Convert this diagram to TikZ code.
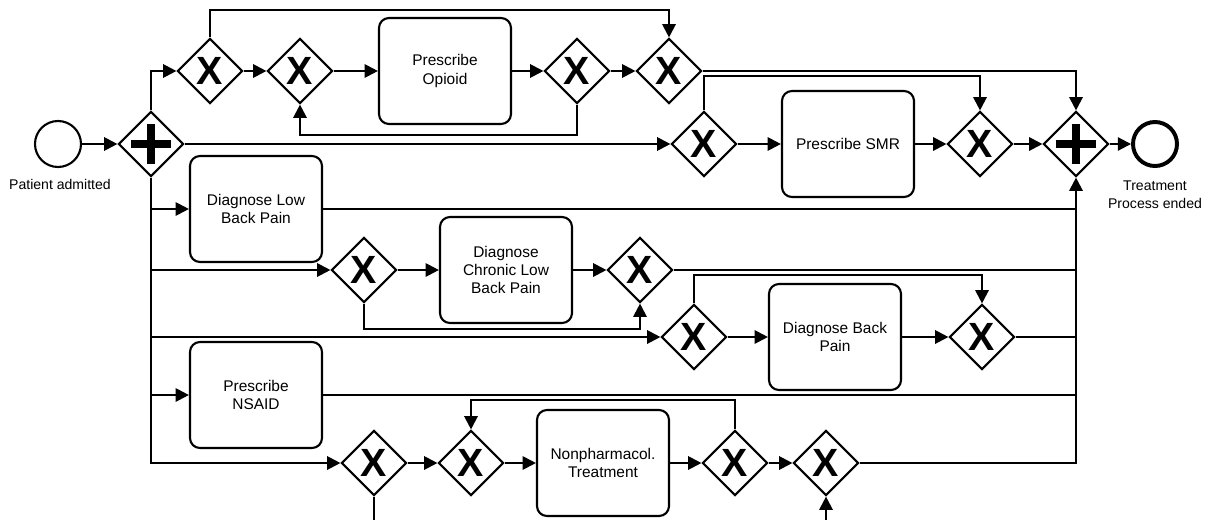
\documentclass[tikz,border=0pt]{standalone}
\usepackage{fontspec}
\setmainfont{Liberation Sans}
\usetikzlibrary{shapes.geometric,arrows.meta}
\tikzset{every node/.style={align=center},
    flow/.style={-{Triangle[length=0.33cm,width=0.33cm]}},
    gate/.style={diamond,draw,fill=white,inner sep=0pt,minimum size=1.625cm},
    xgate/.style={gate,font=\fontsize{28}{28}\selectfont\bfseries},
    pgate/.style={gate,path picture={
        \fill[black] ([shift={(-0.5cm,-0.09cm)}]path picture bounding box.center) rectangle ++(1cm,0.18cm);
        \fill[black] ([shift={(-0.09cm,-0.5cm)}]path picture bounding box.center) rectangle ++(0.18cm,1cm);}},
    task/.style={draw,rounded corners=0.25cm,minimum width=3.3cm,minimum height=2.65cm,
        font=\fontsize{11}{13}\selectfont},
    event/.style={circle,draw,minimum size=1.15cm},
    lbl/.style={font=\fontsize{10}{12.5}\selectfont},
    }
\begin{document}
\begin{tikzpicture}[x=0.025cm,y=-0.025cm,line width=1.5pt]
\useasboundingbox (0,0) rectangle (1210,520);
% events and top branch
\node[event] (start) at (58,144) {};
\node[lbl] (startlbl) at (60,184) {Patient admitted};
\node[pgate] (p1) at (151,144) {};
\node[xgate] (g1) at (210,71) {X};
\node[xgate] (g2) at (300,71) {X};
\node[task] (opioid) at (445,71) {Prescribe\\Opioid};
\node[xgate] (g3) at (577,71) {X};
\node[xgate] (g4) at (669,71) {X};
\node[xgate] (g5) at (704,144) {X};
\node[task] (smr) at (848,144) {Prescribe SMR};
\node[xgate] (g6) at (980,144) {X};
\node[pgate] (p2) at (1076,144) {};
\node[event,line width=2.8pt,minimum size=1.1cm] (end) at (1155,144) {};
\node[lbl] (endlbl) at (1155,195) {Treatment\\Process ended};
% lower branches
\node[task] (dlbp) at (256,209) {Diagnose Low\\Back Pain};
\node[xgate] (g7) at (364,270) {X};
\node[task] (dclbp) at (506,270) {Diagnose\\Chronic Low\\Back Pain};
\node[xgate] (g8) at (640,270) {X};
\node[xgate] (g9) at (694,337) {X};
\node[task] (dbp) at (835,337) {Diagnose Back\\Pain};
\node[xgate] (g10) at (982,337) {X};
\node[task] (nsaid) at (256,395) {Prescribe\\NSAID};
\node[xgate] (g11) at (374,463) {X};
\node[xgate] (g12) at (471,463) {X};
\node[task] (nonph) at (603,463) {Nonpharmacol.\\Treatment};
\node[xgate] (g13) at (735,463) {X};
\node[xgate] (g14) at (826,463) {X};
\coordinate (g11out) at (374,520);
\coordinate (g14in) at (826,520);
% connectors
\draw[flow] (start) -- (p1);
\draw[flow] (p1.north) |- (g1.west);
\draw[flow] (g1) -- (g2);
\draw[flow] (g2) -- (opioid);
\draw[flow] (opioid) -- (g3);
\draw[flow] (g3) -- (g4);
\draw[flow] (g1.north) -- ++(0,-27) -| (g4.north);
\draw[flow] (g3.south) -- ++(0,30) -| (g2.south);
\draw[flow] (g4.east) -| (p2.north);
\draw[flow] (p1) -- (g5);
\draw[flow] (g5) -- (smr);
\draw[flow] (smr) -- (g6);
\draw[flow] (g6) -- (p2);
\draw[flow] (p2) -- (end);
\draw[flow] (g5.north) -- ++(0,-34) -| (g6.north);
\draw[flow] (p1.south) |- (g11.west);
\draw[flow] (p1.south |- dlbp.west) -- (dlbp.west);
\draw[flow] (p1.south |- g7.west) -- (g7.west);
\draw[flow] (g7) -- (dclbp);
\draw[flow] (dclbp) -- (g8);
\draw[flow] (g7.south) -- ++(0,25) -| (g8.south);
\draw[flow] (p1.south |- g9.west) -- (g9.west);
\draw[flow] (g9) -- (dbp);
\draw[flow] (dbp) -- (g10);
\draw[flow] (g9.north) -- ++(0,-28) -| (g10.north);
\draw[flow] (p1.south |- nsaid.west) -- (nsaid.west);
\draw[flow] (g11) -- (g12);
\draw[flow] (g12) -- (nonph);
\draw[flow] (nonph) -- (g13);
\draw[flow] (g13) -- (g14);
\draw[flow] (g13.north) -- ++(0,-29) -| (g12.north);
\draw[flow] (g14.east) -| (p2.south);
\draw (dlbp.east) -- (dlbp.east -| p2.south);
\draw (g8.east) -- (g8.east -| p2.south);
\draw (g10.east) -- (g10.east -| p2.south);
\draw (nsaid.east) -- (nsaid.east -| p2.south);
\draw (g11.south) -- (g11out);
\draw[flow] (g14in) -- (g14.south);
\end{tikzpicture}
\end{document}
